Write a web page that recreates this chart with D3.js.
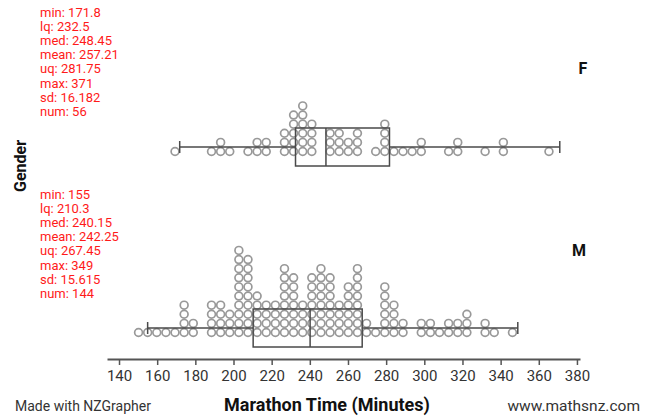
<!DOCTYPE html>
<html><head><meta charset="utf-8">
<script src="https://cdn.jsdelivr.net/npm/d3@7"></script>
<style>
body{margin:0;background:#fff}
svg{display:block;font-family:Roboto,"Noto Sans",sans-serif}
</style>
</head><body><svg id="chart" width="657" height="419"></svg>
<script>
// ---- data ----
const groups = ["F", "M"];
const femaleTimes = [171.8, 192.5, 196, 198, 202, 211.5, 215, 217.5, 220, 222,
  229.5, 230.5, 231.5, 234, 234.5, 235, 236, 237,
  238.5, 239, 240, 240.5, 241.5, 242, 243.5, 244.5, 245.5, 246.5,
  253, 254.5, 256, 258, 259.5, 261, 263, 265, 267.5, 269, 270.5,
  278, 281.5, 282, 283.5, 285, 288, 293, 297.5, 301.5, 303.5,
  316.5, 320.5, 322.5, 336, 344.5, 346.5, 371];
const maleTimes = [155, 159, 164, 168.5, 173.5, 176.5, 177.5, 178.5, 179.5, 182, 184,
  190.5, 191.5, 192.5, 194, 195.5, 196.5, 197.5, 199, 200.5, 202, 203.5,
  204.6, 205, 205.5, 206, 206.5, 207, 207.5, 208, 208.5, 209,
  209.5, 210, 210.3, 210.8, 211.5, 212, 212.5, 213, 213.7,
  214.5, 215.5, 216.5, 217.5, 218.5, 219.5, 220.5, 221.5, 223,
  224, 225, 226.5, 228, 228.6, 229, 229.5, 230, 231, 231.5, 232, 232.8,
  233.5, 234, 234.5, 235.5, 236, 237, 237.5, 238.5, 239.5, 240, 240.3,
  243, 243.5, 244, 245, 245.5, 246.5, 247, 248, 248.5, 249, 249.5, 250, 250.5, 251, 252,
  252.5, 253, 254, 254.5, 255, 256, 256.5, 257.5, 258.5, 259.5, 261,
  262, 262.5, 263.5, 264, 265, 266, 267, 267.5, 268, 268.5, 269, 270, 270.5, 271,
  272.5, 274.5, 278.5, 281.5, 282, 283, 283.5, 284.5, 285, 286.5, 287.5, 288.5, 290,
  292, 294, 301, 303.5, 306, 308, 312, 315.5, 317.5, 320.5, 322.5, 325, 326.5, 328,
  335, 337, 340.5, 349];
const statLabels = ["min", "lq", "med", "mean", "uq", "max", "sd", "num"];
const femaleStats = ["171.8", "232.5", "248.45", "257.21", "281.75", "371", "16.182", "56"];
const maleStats = ["155", "210.3", "240.15", "242.25", "267.45", "349", "15.615", "144"];
const xTicks = [140, 160, 180, 200, 220, 240, 260, 280, 300, 320, 340, 360, 380];

// ---- layout ----
const svg = d3.select("#chart");
svg.append("rect").attr("width", 657).attr("height", 419).attr("fill", "#fff");

const x = d3.scaleLinear().domain([133.7, 381.6]).range([107, 580]);
const y = d3.scalePoint().domain(groups).range([147, 328]);

const binStart = 171.03, binWidth = 4.78, dotShift = 3.2, dotStep = 9.12, dotR = 3.9;
const boxHalf = 19, capHalf = 6;

const series = [
  {g: "F", times: femaleTimes, stats: femaleStats},
  {g: "M", times: maleTimes, stats: maleStats}
];

series.forEach((s, si) => {
  const cy0 = y(s.g);
  // dots
  const counts = new Map();
  const dots = s.times.slice().sort((a, b) => a - b).map(v => {
    const k = Math.floor((v - binStart) / binWidth);
    const n = counts.get(k) || 0;
    counts.set(k, n + 1);
    return {cx: x(binStart + k * binWidth) - dotShift, cy: cy0 + 4.5 - n * dotStep};
  });
  svg.append("g").selectAll("circle").data(dots).join("circle")
    .attr("cx", d => d.cx).attr("cy", d => d.cy).attr("r", dotR)
    .attr("fill", "none").attr("stroke", "#999").attr("stroke-width", 1.7);

  // box plot
  const [mn, lq, med, , uq, mx] = s.stats.map(Number);
  const b = svg.append("g").attr("stroke", "#4a4a4a").attr("stroke-width", 1.5).attr("fill", "none");
  b.append("line").attr("x1", x(mn)).attr("x2", x(lq)).attr("y1", cy0).attr("y2", cy0);
  b.append("line").attr("x1", x(uq)).attr("x2", x(mx)).attr("y1", cy0).attr("y2", cy0);
  b.append("line").attr("x1", x(mn)).attr("x2", x(mn)).attr("y1", cy0 - capHalf).attr("y2", cy0 + capHalf);
  b.append("line").attr("x1", x(mx)).attr("x2", x(mx)).attr("y1", cy0 - capHalf).attr("y2", cy0 + capHalf);
  b.append("rect").attr("x", x(lq)).attr("y", cy0 - boxHalf).attr("width", x(uq) - x(lq)).attr("height", 2 * boxHalf);
  b.append("line").attr("x1", x(med)).attr("x2", x(med)).attr("y1", cy0 - boxHalf).attr("y2", cy0 + boxHalf);

  // stats text
  const top = si === 0 ? 16.5 : 198.5;
  svg.append("g").selectAll("text").data(statLabels).join("text")
    .attr("x", 40).attr("y", (d, i) => top + i * 14.2)
    .attr("font-size", 13).attr("fill", "#ff1a1a")
    .text((d, i) => d + ": " + s.stats[i]);

  // group label
  svg.append("text").attr("x", si === 0 ? 583 : 579).attr("y", si === 0 ? 74 : 256)
    .attr("text-anchor", "middle").attr("font-size", 16).attr("font-weight", "bold")
    .attr("fill", "#111").text(s.g);
});

// axis
const ax = svg.append("g").attr("transform", "translate(0,359)")
  .call(d3.axisBottom(x).tickValues(xTicks).tickSize(6).tickSizeOuter(0).tickPadding(5));
ax.select(".domain").attr("stroke", "#555").attr("stroke-width", 2);
ax.selectAll(".tick line").attr("stroke", "#555").attr("stroke-width", 1.5);
ax.selectAll(".tick text").attr("font-size", 15).attr("fill", "#333").attr("font-family", "Roboto, sans-serif");

// titles
svg.append("text").attr("x", 327).attr("y", 411).attr("text-anchor", "middle")
  .attr("font-size", 18).attr("font-weight", "bold").attr("fill", "#111").text("Marathon Time (Minutes)");
svg.append("text").attr("transform", "translate(26,166) rotate(-90)").attr("text-anchor", "middle")
  .attr("font-size", 16).attr("font-weight", "bold").attr("fill", "#111").text("Gender");
svg.append("text").attr("x", 15).attr("y", 411).attr("font-size", 14).attr("fill", "#333").text("Made with NZGrapher");
svg.append("text").attr("x", 640).attr("y", 411).attr("text-anchor", "end").attr("font-size", 15.5).attr("fill", "#333").text("www.mathsnz.com");
</script>
</body></html>
